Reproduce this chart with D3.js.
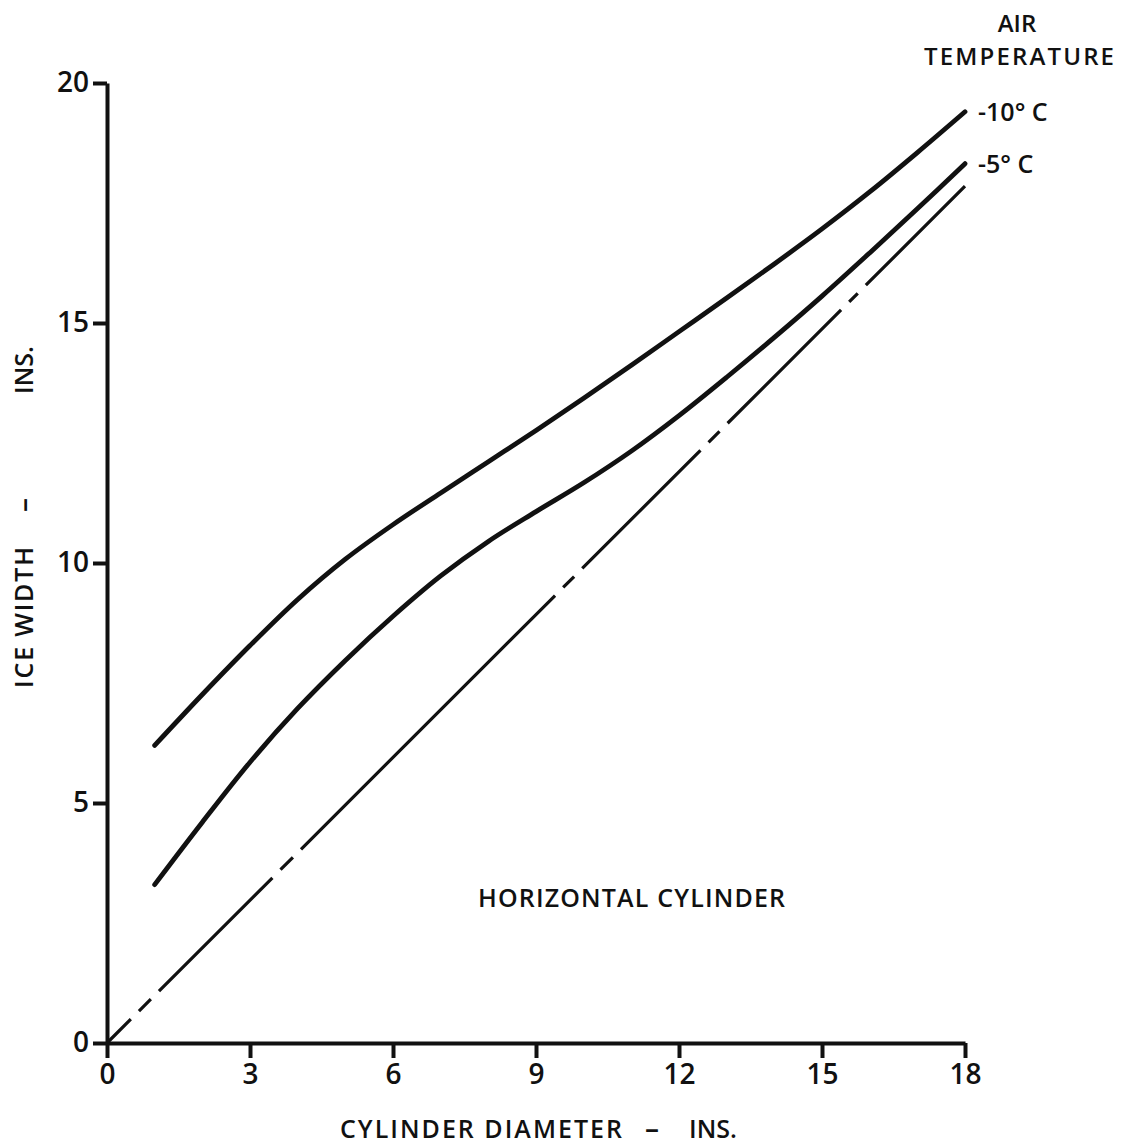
<!DOCTYPE html>
<html>
<head>
<meta charset="utf-8">
<script src="https://d3js.org/d3.v7.min.js"></script>
<style>
  html, body { margin: 0; padding: 0; background: #fff; }
  svg { display: block; }
  text { font-family: "Open Sans", "DejaVu Sans", sans-serif; font-weight: 600; fill: #111; }
</style>
</head>
<body>
<svg id="canvas"></svg>
<script>
"use strict";

// Chart data
const diameters = [1, 2, 3, 4, 5, 6, 7, 8, 9, 10, 11, 12, 13, 14, 15, 16, 17, 18];
const iceWidthMinus10 = [6.2, 7.26, 8.28, 9.24, 10.08, 10.8, 11.46, 12.11, 12.76, 13.43, 14.12, 14.82, 15.52, 16.23, 16.96, 17.73, 18.55, 19.4];
const iceWidthMinus5 = [3.3, 4.6, 5.85, 6.97, 7.97, 8.89, 9.73, 10.45, 11.07, 11.67, 12.33, 13.07, 13.87, 14.7, 15.56, 16.46, 17.38, 18.32];
const referenceX = [0, 18];
const referenceY = [0, 17.85];
// Dash pieces of the dash-dot reference line, in inches of diameter
const referenceDashes = [[0, 0.5], [0.67, 0.92], [1.09, 3.47], [3.64, 3.9], [4.07, 9.4], [9.57, 9.8],
    [9.97, 12.45], [12.62, 12.85], [13.02, 15.4], [15.57, 15.75], [15.92, 18]];
const xTicks = [0, 3, 6, 9, 12, 15, 18];
const yTicks = [0, 5, 10, 15, 20];
const seriesLabels = ["-10° C", "-5° C"];

const canvasWidth = 1125;
const canvasHeight = 1147;

const chart = {
    left: 107,
    right: 965,
    top: 83,
    bottom: 1043
};

const svg = d3.select("#canvas")
    .attr("width", canvasWidth)
    .attr("height", canvasHeight);

// Scales
const x = d3.scaleLinear().domain([0, 18]).range([chart.left, chart.right]);
const y = d3.scaleLinear().domain([0, 20]).range([chart.bottom, chart.top]);

// Reference (dash-dot) line
const refLine = d3.line()
    .x(d => x(d[0]))
    .y(d => y(d[1]));
const refPath = svg.append("path")
    .datum(d3.zip(referenceX, referenceY))
    .attr("fill", "none")
    .attr("stroke", "#111")
    .attr("stroke-width", 3.2)
    .attr("d", refLine);

// Convert dash pieces into a dasharray along the straight line
const refLength = refPath.node().getTotalLength();
const perInch = refLength / (referenceX[1] - referenceX[0]);
const dashes = [];
referenceDashes.forEach((d, i) => {
    dashes.push((d[1] - d[0]) * perInch);
    const next = referenceDashes[i + 1];
    dashes.push(next ? (next[0] - d[1]) * perInch : 20);
});
refPath.attr("stroke-dasharray", dashes.join(" "));

// Curves
const curveLine = d3.line()
    .x(d => x(d[0]))
    .y(d => y(d[1]))
    .curve(d3.curveCatmullRom.alpha(0.5));

[iceWidthMinus10, iceWidthMinus5].forEach(series => {
    svg.append("path")
        .datum(d3.zip(diameters, series))
        .attr("fill", "none")
        .attr("stroke", "#111")
        .attr("stroke-width", 4.8)
        .attr("stroke-linecap", "round")
        .attr("d", curveLine);
});

// Axes
const xAxis = svg.append("g")
    .attr("transform", `translate(0,${chart.bottom})`)
    .call(d3.axisBottom(x).tickValues(xTicks).tickSize(15).tickSizeOuter(0).tickPadding(6));

const yAxis = svg.append("g")
    .attr("transform", `translate(${chart.left},0)`)
    .call(d3.axisLeft(y).tickValues(yTicks).tickSize(14).tickSizeOuter(0).tickPadding(4));

[xAxis, yAxis].forEach(axis => {
    axis.select(".domain").attr("stroke", "#111").attr("stroke-width", 4);
    axis.selectAll(".tick line").attr("stroke", "#111").attr("stroke-width", 4);
    axis.selectAll(".tick text")
        .attr("font-size", 28)
        .attr("font-family", "Open Sans")
        .attr("font-weight", 600)
        .attr("fill", "#111");
});

// X axis title, in three pieces as lettered on the original
const xTitle = svg.append("g").attr("transform", "translate(0,1138)");
xTitle.append("text")
    .attr("x", 340)
    .attr("font-size", 25)
    .attr("textLength", 282)
    .attr("lengthAdjust", "spacing")
    .text("CYLINDER DIAMETER");
xTitle.append("text")
    .attr("x", 652)
    .attr("text-anchor", "middle")
    .attr("font-size", 28)
    .text("–");
xTitle.append("text")
    .attr("x", 689)
    .attr("font-size", 25)
    .text("INS.");

// Y axis title, rotated, in three pieces
const yTitle = svg.append("g").attr("transform", "translate(33,0) rotate(-90)");
yTitle.append("text")
    .attr("x", -688)
    .attr("font-size", 25)
    .attr("textLength", 141)
    .attr("lengthAdjust", "spacing")
    .text("ICE WIDTH");
yTitle.append("text")
    .attr("x", -505)
    .attr("text-anchor", "middle")
    .attr("font-size", 28)
    .text("–");
yTitle.append("text")
    .attr("x", -394)
    .attr("font-size", 25)
    .text("INS.");

// Annotation
svg.append("text")
    .attr("x", 478)
    .attr("y", 907)
    .attr("font-size", 25)
    .attr("textLength", 307)
    .attr("lengthAdjust", "spacing")
    .text("HORIZONTAL CYLINDER");

// Legend heading
svg.append("text")
    .attr("x", 1017)
    .attr("y", 32)
    .attr("text-anchor", "middle")
    .attr("font-size", 24)
    .text("AIR");

svg.append("text")
    .attr("x", 1019)
    .attr("y", 65)
    .attr("text-anchor", "middle")
    .attr("font-size", 24)
    .attr("textLength", 190)
    .attr("lengthAdjust", "spacing")
    .text("TEMPERATURE");

// Series labels at the end of each curve
[iceWidthMinus10, iceWidthMinus5].forEach((series, i) => {
    svg.append("text")
        .attr("x", x(diameters[diameters.length - 1]) + 13)
        .attr("y", y(series[series.length - 1]) + 9)
        .attr("font-size", 25)
        .attr("xml:space", "preserve")
        .text(seriesLabels[i]);
});
</script>
</body>
</html>
